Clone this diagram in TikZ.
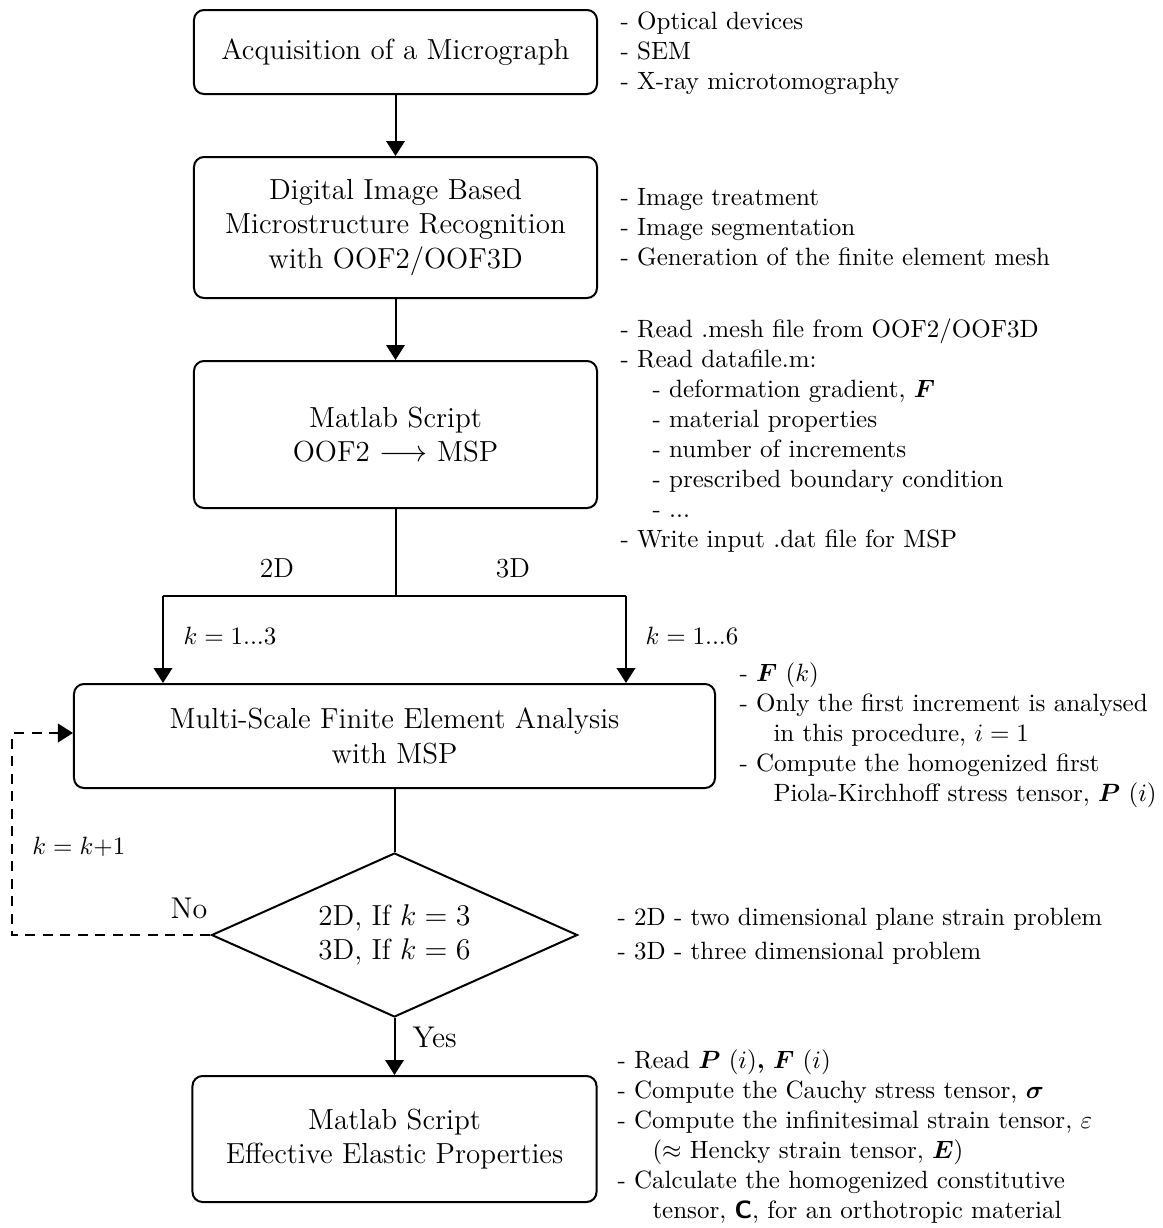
\documentclass[tikz,border=0pt]{standalone}
\usepackage{amsmath,amssymb,bm}
\usetikzlibrary{arrows.meta,shapes.geometric}
\tikzset{
  box/.style={draw, rounded corners=4pt, line width=0.8pt, align=center, font=\fontsize{11.6}{13.8}\selectfont, inner sep=0pt},
  dia/.style={draw, shape=diamond, line width=0.8pt, align=center, font=\fontsize{11.6}{13.8}\selectfont, inner sep=0pt, aspect=2.23},
  ann/.style={anchor=north west, align=left, inner sep=0pt, font=\normalsize},
  lab/.style={inner sep=0pt, font=\normalsize},
  conn/.style={line width=0.8pt},
  arr/.style={line width=0.8pt, -{Triangle[length=6pt,width=7.4pt]}},
  dasharr/.style={arr, dash pattern=on 4pt off 3pt}
}
\begin{document}
\begin{tikzpicture}[x=0.4pt,y=-0.4pt]
\useasboundingbox (0,0) rectangle (1163,1228);
% boxes
\node[box, minimum width=161.2pt, minimum height=33.6pt] (b1) at (395.5,52) {Acquisition of a Micrograph};
\node[box, minimum width=161.2pt, minimum height=56.4pt] (b2) at (395.5,227.5) {Digital Image Based\\Microstructure Recognition\\with OOF2/OOF3D};
\node[box, minimum width=161.2pt, minimum height=58.8pt] (b3) at (395.5,434.5) {Matlab Script\\OOF2 $\longrightarrow$ MSP};
\node[box, minimum width=256.4pt, minimum height=41.6pt] (b4) at (394.5,736) {Multi-Scale Finite Element Analysis\\with MSP};
\node[dia, minimum width=146.4pt, minimum height=65.6pt] (d) at (394.5,935) {2D, If $k = 3$\\3D, If $k = 6$};
\node[box, minimum width=161.6pt, minimum height=50.4pt] (b5) at (394.5,1139) {Matlab Script\\Effective Elastic Properties};
% connectors
\draw[arr] (b1) -- (b2);
\draw[arr] (b2) -- (b3);
\coordinate (m) at (395.5,596);
\coordinate (l) at (163,596);
\coordinate (r) at (626,596);
\draw[conn] (b3.south) -- (m);
\draw[conn] (l) -- (r);
\draw[arr] (l) -- (l |- b4.north);
\draw[arr] (r) -- (r |- b4.north);
\draw[conn] (b4.south) -- (d.north);
\draw[arr] (d.south) -- (b5.north);
\coordinate (lp) at (12,935);
\draw[dasharr] (d.west) -- (lp) |- ([yshift=1.2pt]b4.west);
% labels
\node[lab, font=\fontsize{11}{13}\selectfont] (t2d) at (277,568) {2D};
\node[lab, font=\fontsize{11}{13}\selectfont] (t3d) at (513,568) {3D};
\node[lab, anchor=west] (k3) at (183,636) {$k = 1...3$};
\node[lab, anchor=west] (k6) at (645,636) {$k = 1...6$};
\node[lab, anchor=west] (kk) at (32,847) {$k = k{+}1$};
\node[lab, font=\large] (no) at (189,908) {No};
\node[lab, font=\large, anchor=west] (yes) at (412,1037) {Yes};
% annotations
\node[ann] (a1) at (620,11) {- Optical devices\\- SEM\\- X-ray microtomography};
\node[ann] (a2) at (620,188) {- Image treatment\\- Image segmentation\\- Generation of the finite element mesh};
\node[ann] (a3) at (620,318) {- Read .mesh file from OOF2/OOF3D\\- Read datafile.m:\\
\hspace*{12.8pt}- deformation gradient, $\bm{F}$\\
\hspace*{12.8pt}- material properties\\
\hspace*{12.8pt}- number of increments\\
\hspace*{12.8pt}- prescribed boundary condition\\
\hspace*{12.8pt}- ...\\
- Write input .dat file for MSP};
\node[ann] (a4) at (739,662) {- $\bm{F}$ $(k)$\\- Only the first increment is analysed\\
\hspace*{13.6pt}in this procedure, $i = 1$\\
- Compute the homogenized first\\
\hspace*{13.6pt}Piola-Kirchhoff stress tensor, $\bm{P}$ $(i)$};
\node[ann] (ad) at (617,908) {- 2D - two dimensional plane strain problem\\[1.6pt]- 3D - three dimensional problem};
\node[ann] (a5) at (617,1049) {- Read $\bm{P}$ $(i)\bm{,}$ $\bm{F}$ $(i)$\\
- Compute the Cauchy stress tensor, $\bm{\sigma}$\\
- Compute the infinitesimal strain tensor, $\varepsilon$\\
\hspace*{14pt}($\approx$ Hencky strain tensor, $\bm{E}$)\\
- Calculate the homogenized constitutive\\
\hspace*{14pt}tensor, \textsf{\textbf{C}}, for an orthotropic material};
\end{tikzpicture}
\end{document}
